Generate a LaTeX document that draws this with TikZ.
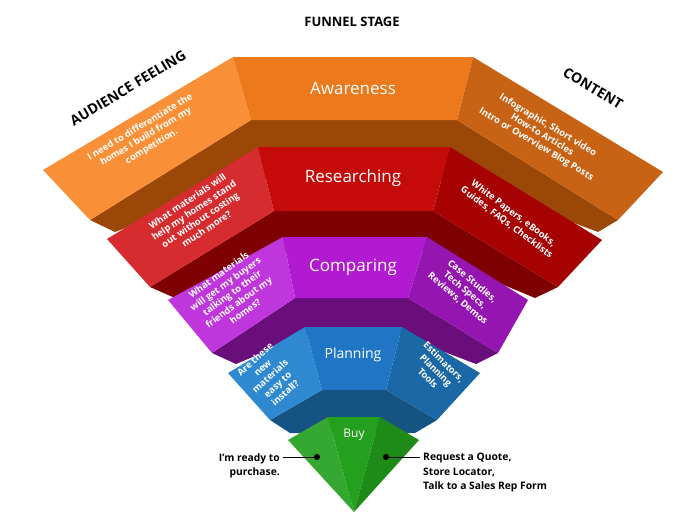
\documentclass[tikz,border=0pt]{standalone}
\usepackage{fontspec}
\setmainfont{Open Sans}
\begin{document}
\begin{tikzpicture}[x=1pt,y=-1pt,
  wing/.style={text=white,font=\fontsize{9.3}{11.3}\selectfont\bfseries,align=center,inner sep=0pt},
  stage/.style={text=white,font=\fontsize{17}{20}\selectfont,inner sep=0pt},
  head/.style={font=\fontsize{13}{16}\selectfont\bfseries,inner sep=0pt},
  side/.style={font=\fontsize{10.3}{14.5}\selectfont\bfseries,inner sep=0pt},
  dot/.style={circle,fill=black,inner sep=0pt,minimum size=6pt}]
\useasboundingbox (0,0) rectangle (700,530);
\definecolor{aC}{HTML}{EC7A1C}\definecolor{aL}{HTML}{F99038}\definecolor{aR}{HTML}{C86315}\definecolor{aD}{HTML}{9B4708}
\definecolor{rC}{HTML}{C50A0A}\definecolor{rL}{HTML}{D62B2F}\definecolor{rR}{HTML}{A60202}\definecolor{rD}{HTML}{7F0000}
\definecolor{cC}{HTML}{B21AD2}\definecolor{cL}{HTML}{C036DD}\definecolor{cR}{HTML}{9415B0}\definecolor{cD}{HTML}{6A0E7C}
\definecolor{pC}{HTML}{2076C4}\definecolor{pL}{HTML}{2E89D1}\definecolor{pR}{HTML}{1A68A6}\definecolor{pD}{HTML}{155482}
\definecolor{bL}{HTML}{35A832}\definecolor{bC}{HTML}{25A01E}\definecolor{bR}{HTML}{1E8A17}
% Awareness
\fill[aD] (90,220)--(251,120)--(457,120)--(618,220)--(598,232)--(460,180)--(250,180)--(115,232)--cycle;
\fill[aL] (233,57)--(43,170)--(90,220)--(251,120)--cycle;
\fill[aR] (473,57)--(663,172)--(618,220)--(457,120)--cycle;
\fill[aC] (233,57)--(473,57)--(457,120)--(251,120)--cycle;
% Researching
\fill[rD] (150,287)--(274,211)--(433,211)--(558,287)--(535,298)--(420,250)--(290,250)--(175,298)--cycle;
\fill[rL] (258,147)--(107,239)--(150,287)--(274,211)--cycle;
\fill[rR] (450,147)--(602,240)--(558,287)--(433,211)--cycle;
\fill[rC] (258,147)--(450,147)--(433,211)--(274,211)--cycle;
% Comparing
\fill[cD] (212,353)--(295,298)--(408,298)--(498,353)--(476,364)--(400,335)--(305,335)--(236,364)--cycle;
\fill[cL] (283,237)--(168,300)--(212,353)--(295,298)--cycle;
\fill[cR] (427,237)--(528,300)--(498,353)--(408,298)--cycle;
\fill[cC] (283,237)--(427,237)--(408,298)--(295,298)--cycle;
% Planning
\fill[pD] (270,420)--(322,390)--(386,390)--(437,420)--(415,433)--(290,433)--cycle;
\fill[pL] (305,327)--(228,373)--(270,420)--(322,390)--cycle;
\fill[pR] (402,327)--(480,373)--(437,420)--(386,390)--cycle;
\fill[pC] (305,327)--(402,327)--(386,390)--(322,390)--cycle;
% Buy
\fill[bL] (288,440)--(328,417)--(354,512)--cycle;
\fill[bC] (328,417)--(380,417)--(354,512)--cycle;
\fill[bR] (380,417)--(419,440)--(354,512)--cycle;
% titles
\node[head] (fs) at (352,22) {FUNNEL STAGE};
\node[head,font=\fontsize{14}{16}\selectfont\bfseries,rotate=31] (af) at (128,88) {AUDIENCE FEELING};
\node[head,font=\fontsize{14}{16}\selectfont\bfseries,rotate=-31] (ct) at (593,88) {CONTENT};
% stage labels
\node[stage] (s1) at (353,88) {Awareness};
\node[stage] (s2) at (353,178) {Researching};
\node[stage] (s3) at (353,267) {Comparing};
\node[stage,font=\fontsize{14}{17}\selectfont] (s4) at (353,355) {Planning};
\node[stage,font=\fontsize{12}{15}\selectfont] (s5) at (354,435) {Buy};
% wing texts
\node[wing,rotate=31] (l1) at (146,137) {I need to differentiate the\\homes I build from my\\competition.};
\node[wing,rotate=-31] (r1) at (542,135) {Infographic, Short video\\How-to Articles\\Intro or Overview Blog Posts};
\node[wing,rotate=34] (l2) at (197,215) {What materials will\\help my homes stand\\out without costing\\much more?};
\node[wing,rotate=-37] (r2) at (510,218) {White Papers, eBooks,\\Guides, FAQs, Checklists};
\node[wing,rotate=36] (l3) at (232,293) {What materials\\will get my buyers\\talking to their\\friends about my\\homes?};
\node[wing,rotate=-40] (r3) at (465,290) {Case Studies,\\Tech Specs,\\Reviews, Demos};
\node[wing,rotate=42] (l4) at (270,376) {Are these\\new\\materials\\easy to\\install?};
\node[wing,rotate=-45] (r4) at (436,370) {Estimators,\\Planning\\Tools};
% buy annotations
\node[dot] (d1) at (317,457) {};
\node[dot] (d2) at (386,457) {};
\coordinate (e1) at (283,457);
\coordinate (e2) at (420,457);
\draw[line width=0.8pt] (d1)--(e1);
\draw[line width=0.8pt] (d2)--(e2);
\node[side,anchor=north east,align=right] (t1) at (280,453) {I'm ready to\\purchase.};
\node[side,anchor=north west,align=left] (t2) at (423,453) {Request a Quote,\\Store Locator,\\Talk to a Sales Rep Form};
\end{tikzpicture}
\end{document}
